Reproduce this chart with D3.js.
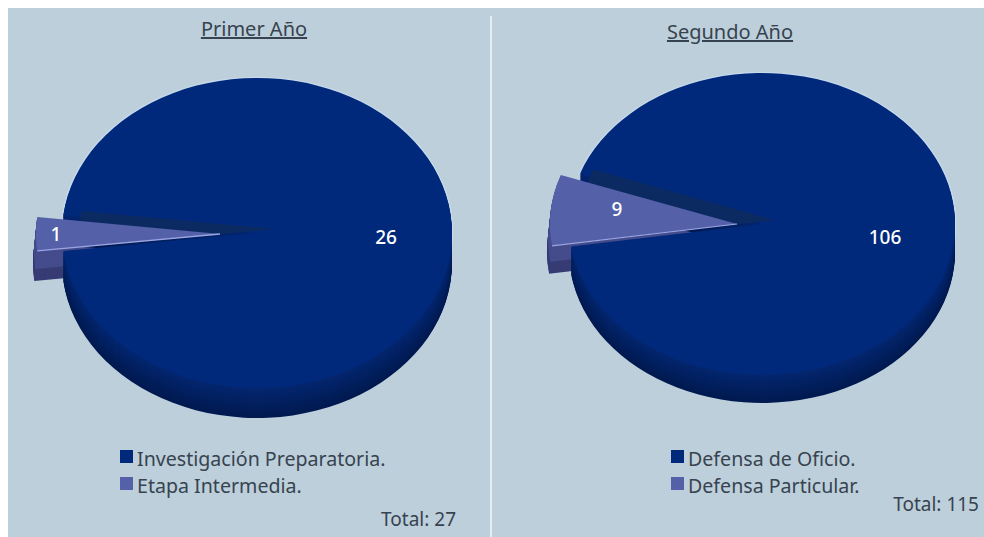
<!DOCTYPE html>
<html><head><meta charset="utf-8">
<script src="https://cdn.jsdelivr.net/npm/d3@7/dist/d3.min.js"></script>
<style>html,body{margin:0;padding:0;background:#fff}svg{display:block}</style></head>
<body><svg id="c" width="984" height="537"></svg>
<script>
const titles = ["Primer Año", "Segundo Año"];
const categoriesA = ["Investigación Preparatoria.", "Etapa Intermedia."];
const categoriesB = ["Defensa de Oficio.", "Defensa Particular."];
const valuesA = [26, 1];
const valuesB = [106, 9];
const totals = ["Total: 27", "Total: 115"];
const font = "'Noto Sans', sans-serif";
const mainColor = "#00297c", smallColor = "#5460a8", textColor = "#37434f";

const svg = d3.select("#c");
svg.append("rect").attr("x",8).attr("y",8).attr("width",976).attr("height",529).attr("fill","#bdcfdb");
svg.append("line").attr("x1",491).attr("x2",491).attr("y1",16).attr("y2",537).attr("stroke","#f6f9fb").attr("stroke-width",1.5);

const layouts = [
 {title:titles[0],tx:254,ty:36,cats:categoriesA,vals:valuesA,total:totals[0],totalX:456,totalY:526,
  cx:257,cy:233,rx:195,ry:155,depth:30,ex:-37,ey:1,sliceR:184,centerAngle:-90,tipDx:18,tipDy:-4,
  lx:120,ly:[466,493],labelPos:[[386,244],[56,241]]},
 {title:titles[1],tx:730,ty:39,cats:categoriesB,vals:valuesB,total:totals[1],totalX:979,totalY:511,
  cx:762,cy:224,rx:193,ry:151,depth:28,ex:-25,ey:0,sliceR:187,centerAngle:-84.5,tipDx:13,tipDy:-4,
  lx:671,ly:[466,493],labelPos:[[885,244],[617,216]]}
];

const wallColor = d3.scaleLinear().range(["#04266e","#011a50"]);

layouts.forEach(L=>{
  const g = svg.append("g");
  const total = d3.sum(L.vals);
  const small = L.vals[1]/total*2*Math.PI;
  const mid = L.centerAngle*Math.PI/180;
  const pie = d3.pie().sort(null).startAngle(mid+small/2).endAngle(mid+small/2+2*Math.PI);
  const arcs = pie(L.vals);
  const k = L.ry/L.rx;
  const arc = d3.arc().innerRadius(0).outerRadius(L.rx);
  const sliceArc = d3.arc().innerRadius(0).outerRadius(L.sliceR);
  const at = (dx,dy)=>`translate(${L.cx+dx},${L.cy+dy}) scale(1,${k})`;
  const depths = d3.range(L.depth,0,-1);
  wallColor.domain([1,L.depth]);

  // pale halo around the disc
  g.append("path").attr("d",arc(arcs[0])).attr("transform",at(0,0))
    .attr("fill","none").attr("stroke","#c6d9ea").attr("stroke-width",3);
  // exploded slice wall
  depths.forEach(z=>g.append("path").attr("d",sliceArc(arcs[1]))
    .attr("transform",at(L.ex-3*z/L.depth,L.ey+z)).attr("fill",z>L.depth*0.6?"#373c74":"#454c8c"));
  // main wall
  depths.forEach(z=>g.append("path").attr("d",arc(arcs[0]))
    .attr("transform",at(0,z)).attr("fill",wallColor(z)));
  // main top
  g.append("path").attr("d",arc(arcs[0])).attr("transform",at(0,0)).attr("fill",mainColor);
  // dark band along the notch, up to the slice tip
  g.append("path").attr("d",arc(arcs[1])).attr("transform",at(L.tipDx,L.tipDy)).attr("fill","#0c2a62");
  // exploded slice top
  g.append("path").attr("d",sliceArc(arcs[1])).attr("transform",at(L.ex,L.ey)).attr("fill",smallColor);
  // light lower edge of the slice
  const edge = d3.pointRadial(arcs[1].startAngle, L.sliceR);
  g.append("path").attr("d",d3.line()([[0,0],edge])).attr("transform",at(L.ex,L.ey))
    .attr("fill","none").attr("stroke","#9aa4e2").attr("stroke-width",1.6);

  // title with underline
  svg.append("text").attr("x",L.tx).attr("y",L.ty).attr("text-anchor","middle")
     .attr("font-family",font).attr("font-size",20).attr("fill",textColor)
     .attr("text-decoration","underline").text(L.title);
  // values
  L.vals.forEach((v,i)=>svg.append("text").attr("x",L.labelPos[i][0]).attr("y",L.labelPos[i][1])
     .attr("text-anchor","middle").attr("font-family",font).attr("font-weight",500)
     .attr("font-size",19).attr("fill","#fff").text(v));
  // legend
  L.cats.forEach((c,i)=>{
    svg.append("rect").attr("x",L.lx).attr("y",L.ly[i]-16).attr("width",13).attr("height",13)
       .attr("fill",i?smallColor:mainColor);
    svg.append("text").attr("x",L.lx+17).attr("y",L.ly[i]).attr("font-family",font)
       .attr("font-size",19.6).attr("fill",textColor).text(c);
  });
  svg.append("text").attr("x",L.totalX).attr("y",L.totalY).attr("text-anchor","end")
     .attr("font-family",font).attr("font-size",19).attr("fill",textColor).text(L.total);
});
</script></body></html>
